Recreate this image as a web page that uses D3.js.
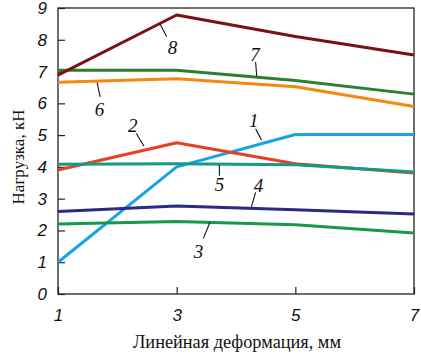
<!DOCTYPE html>
<html><head><meta charset="utf-8">
<script src="https://cdn.jsdelivr.net/npm/d3@7"></script>
<style>body{margin:0;background:#fff}</style>
</head><body>
<svg id="c" width="421" height="354"></svg>
<script>
const xValues = [1, 3, 5, 7];
const seriesNames = ["1","2","3","4","5","6","7","8"];
const s1 = [1.0, 4.0, 5.02, 5.02];
const s2 = [3.9, 4.76, 4.1, 3.81];
const s3 = [2.2, 2.28, 2.18, 1.92];
const s4 = [2.6, 2.77, 2.65, 2.52];
const s5 = [4.08, 4.1, 4.07, 3.84];
const s6 = [6.66, 6.77, 6.52, 5.9];
const s7 = [7.04, 7.04, 6.72, 6.29];
const s8 = [6.89, 8.78, 8.1, 7.52];
const colors = ["#17a3e6","#e83e25","#17994a","#2b2a86","#139a84","#f5870f","#2f7d32","#7a1212"];
const xTicks = [1, 3, 5, 7];
const yTicks = [0,1,2,3,4,5,6,7,8,9];
const xTitle = "Линейная деформация, мм";
const yTitle = "Нагрузка, кН";
// label positions: [text x, text y, leader x1,y1,x2,y2] in data units
const labels = [
  {n:"1", t:[4.3,5.45], l:[4.33,5.2,4.43,4.85]},
  {n:"2", t:[2.26,5.3], l:[2.32,5.05,2.45,4.65]},
  {n:"3", t:[3.37,1.35], l:[3.56,2.25,3.45,1.75]},
  {n:"4", t:[4.38,3.41], l:[4.33,3.2,4.26,2.74]},
  {n:"5", t:[3.72,3.46], l:[3.72,4.06,3.72,3.72]},
  {n:"6", t:[1.7,5.8], l:[1.66,6.65,1.71,6.2]},
  {n:"7", t:[4.32,7.54], l:[4.33,7.3,4.35,6.86]},
  {n:"8", t:[2.93,7.75], l:[2.72,8.5,2.83,8.1]}
];
const allSeries = [s1,s2,s3,s4,s5,s6,s7,s8];

const svg = d3.select("#c");
const m = {l:58, r:414, t:8, b:294};
const x = d3.scaleLinear().domain([1,7]).range([m.l, m.r]);
const y = d3.scaleLinear().domain([0,9]).range([m.b, m.t]);

// frame
svg.append("rect").attr("x",m.l).attr("y",m.t).attr("width",m.r-m.l).attr("height",m.b-m.t)
  .attr("fill","none").attr("stroke","#222").attr("stroke-width",1.3);

// axes
const yAxis = d3.axisLeft(y).tickValues(yTicks).tickSize(-7).tickPadding(11).tickFormat(d3.format("d"));
const gy = svg.append("g").attr("transform",`translate(${m.l},0)`).call(yAxis);
const xAxis = d3.axisBottom(x).tickValues(xTicks).tickSize(-7).tickPadding(15).tickFormat(d3.format("d"));
const gx = svg.append("g").attr("transform",`translate(0,${m.b})`).call(xAxis);
[gy,gx].forEach(g=>{
  g.select(".domain").remove();
  g.selectAll(".tick line").attr("stroke","#222").attr("stroke-width",1.2);
  g.selectAll(".tick text").attr("font-family","Liberation Sans, Arial, sans-serif")
   .attr("font-style","italic").attr("font-size",17).attr("fill","#111");
});

// lines
const line = d3.line().x((d,i)=>x(xValues[i])).y(d=>y(d));
allSeries.forEach((s,i)=>{
  svg.append("path").datum(s).attr("d",line).attr("fill","none")
    .attr("stroke",colors[i]).attr("stroke-width",3).attr("stroke-linejoin","round");
});

// labels
labels.forEach(lb=>{
  svg.append("line").attr("x1",x(lb.l[0])).attr("y1",y(lb.l[1])).attr("x2",x(lb.l[2])).attr("y2",y(lb.l[3]))
    .attr("stroke","#111").attr("stroke-width",1.1);
  svg.append("text").attr("x",x(lb.t[0])).attr("y",y(lb.t[1])).attr("text-anchor","middle")
    .attr("dominant-baseline","central")
    .attr("font-family","Liberation Serif, Times New Roman, serif").attr("font-style","italic")
    .attr("font-size",19).attr("fill","#111").text(lb.n);
});

// titles
svg.append("text").attr("x",237).attr("y",348).attr("text-anchor","middle")
  .attr("font-family","Liberation Serif, Times New Roman, serif").attr("font-size",18.3).attr("fill","#111").text(xTitle);
svg.append("text").attr("transform",`translate(24,157) rotate(-90)`).attr("text-anchor","middle")
  .attr("font-family","Liberation Serif, Times New Roman, serif").attr("font-size",17).attr("fill","#111").text(yTitle);
</script>
</body></html>
